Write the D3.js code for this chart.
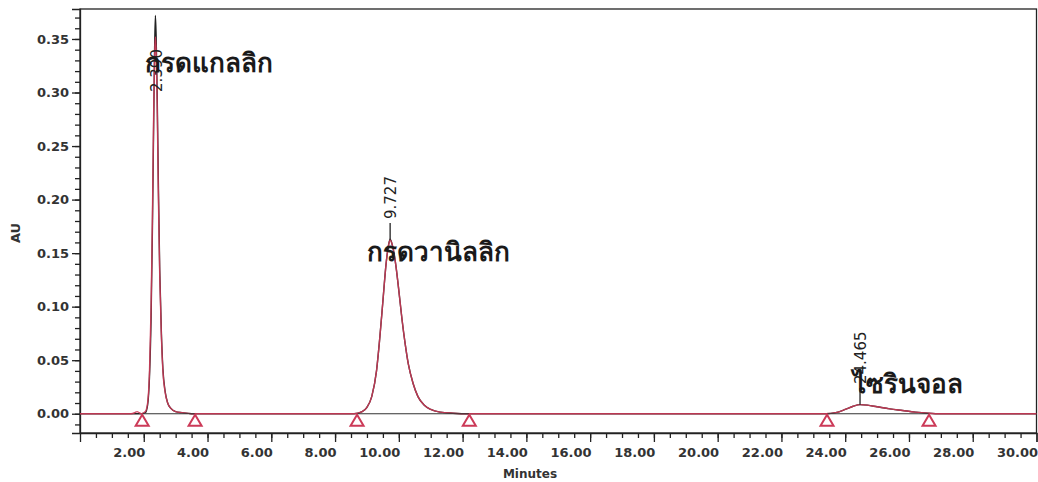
<!DOCTYPE html>
<html>
<head>
<meta charset="utf-8">
<script src="https://cdn.jsdelivr.net/npm/d3@7"></script>
<style>
  body { margin: 0; background: #fff; }
  svg { display: block; }
  .axis text { font-family: "DejaVu Sans", sans-serif; font-weight: bold; font-size: 13px; fill: #333; }
  .axis path, .axis line { stroke: #222; stroke-width: 1.3; }
</style>
</head>
<body>
<div id="chart"></div>
<script>
/* ---- data ---- */
// retention time (min) and absorbance (AU)
var traceTimes = [0, 1.6, 1.72, 1.79, 1.86, 1.93, 2.05, 2.12, 2.18, 2.23, 2.27, 2.31, 2.34, 2.365, 2.39, 2.42, 2.46, 2.50, 2.55, 2.60, 2.67, 2.75, 2.85, 3.0, 3.2, 3.5,
	8.6, 8.85, 9.0, 9.15, 9.3, 9.4, 9.5, 9.6, 9.68, 9.727, 9.8, 9.9, 10.0, 10.1, 10.2, 10.3, 10.45, 10.6, 10.8, 11.0, 11.3, 11.7, 12.2,
	23.4, 23.7, 24.0, 24.25, 24.465, 24.7, 25.0, 25.4, 25.8, 26.2, 26.6, 27.0, 30];
var redAbs = [0, 0, 0.001, 0.002, 0.001, 0, 0.002, 0.01, 0.04, 0.10, 0.18, 0.28, 0.335, 0.352, 0.338, 0.29, 0.20, 0.13, 0.075, 0.04, 0.02, 0.01, 0.005, 0.002, 0.001, 0,
	0, 0.002, 0.006, 0.016, 0.04, 0.07, 0.105, 0.14, 0.158, 0.162, 0.157, 0.14, 0.115, 0.088, 0.065, 0.046, 0.028, 0.016, 0.008, 0.004, 0.0015, 0.0005, 0,
	0, 0.001, 0.004, 0.007, 0.0085, 0.008, 0.0065, 0.0045, 0.003, 0.0015, 0.0005, 0, 0];
var blackAbs = [0, 0, 0, 0, 0, 0, 0.001, 0.008, 0.035, 0.09, 0.17, 0.27, 0.34, 0.372, 0.35, 0.30, 0.21, 0.135, 0.078, 0.042, 0.021, 0.01, 0.005, 0.002, 0.001, 0,
	0, 0.002, 0.006, 0.016, 0.04, 0.07, 0.105, 0.14, 0.158, 0.163, 0.157, 0.14, 0.115, 0.088, 0.065, 0.046, 0.028, 0.016, 0.008, 0.004, 0.0015, 0.0005, 0,
	0, 0.001, 0.004, 0.007, 0.0085, 0.008, 0.0065, 0.0045, 0.003, 0.0015, 0.0005, 0, 0];

// integration start / end markers (min)
var markerTimes = [1.95, 3.61, 8.69, 12.21, 23.43, 26.63];

// peak retention labels and compound names
var peakTimes = [2.39, 9.727, 24.465];
var peakLabels = ["2.390", "9.727", "24.465"];
var compoundNames = ["กรดแกลลิก", "กรดวานิลลิก", "ไซรินจอล"];

var yTicks = [0, 0.05, 0.10, 0.15, 0.20, 0.25, 0.30, 0.35];
var xTicks = [2, 4, 6, 8, 10, 12, 14, 16, 18, 20, 22, 24, 26, 28, 30];

/* ---- layout ---- */
var chartWidth = 1038, chartHeight = 482;
var plotLeft = 80, plotRight = 1036.5, plotTop = 9, plotBottom = 433;
var red = "#cc3a58";

var x = d3.scaleLinear().domain([0, 30]).range([plotLeft, plotRight]);
var y = d3.scaleLinear().domain([-0.018, 0.378]).range([plotBottom, plotTop]);

var svg = d3.select("#chart").append("svg")
	.attr("width", chartWidth)
	.attr("height", chartHeight);

svg.append("rect").attr("width", chartWidth).attr("height", chartHeight).attr("fill", "#fff");

// frame
svg.append("rect")
	.attr("x", plotLeft).attr("y", plotTop)
	.attr("width", plotRight - plotLeft).attr("height", plotBottom - plotTop)
	.attr("fill", "none").attr("stroke", "#222").attr("stroke-width", 1.3);

// minor ticks
var yMinor = d3.axisLeft(y).tickValues(d3.range(-0.01, 0.375, 0.01)).tickSize(5).tickFormat("");
svg.append("g").attr("class", "axis").attr("transform", "translate(" + plotLeft + ",0)").call(yMinor)
	.select(".domain").remove();
var xMinor = d3.axisBottom(x).tickValues(d3.range(0.5, 30, 0.5)).tickSize(5).tickFormat("");
svg.append("g").attr("class", "axis").attr("transform", "translate(0," + plotBottom + ")").call(xMinor)
	.select(".domain").remove();

// major axes
var yAxis = svg.append("g").attr("class", "axis")
	.attr("transform", "translate(" + plotLeft + ",0)")
	.call(d3.axisLeft(y).tickValues(yTicks).tickSize(8).tickPadding(3).tickFormat(d3.format(".2f")));
var xAxis = svg.append("g").attr("class", "axis")
	.attr("transform", "translate(0," + plotBottom + ")")
	.call(d3.axisBottom(x).tickValues(xTicks).tickSize(9).tickPadding(6).tickFormat(d3.format(".2f")));
xAxis.selectAll("text").attr("text-anchor", "end").attr("x", 1);

// axis titles
svg.append("text")
	.attr("transform", "translate(20," + ((plotTop + plotBottom) / 2 + 12) + ") rotate(-90)")
	.attr("text-anchor", "middle")
	.style("font-family", "DejaVu Sans, sans-serif").style("font-weight", "bold").style("font-size", "13px")
	.attr("fill", "#333")
	.text("AU");
svg.append("text")
	.attr("x", 530).attr("y", 478)
	.attr("text-anchor", "middle")
	.style("font-family", "DejaVu Sans, sans-serif").style("font-weight", "bold").style("font-size", "12px")
	.attr("fill", "#333")
	.text("Minutes");

// traces
var points = traceTimes.map(function(t, i) { return {t: t, red: redAbs[i], black: blackAbs[i]}; });
var lineBlack = d3.line().x(function(d) { return x(d.t); }).y(function(d) { return y(d.black); }).curve(d3.curveMonotoneX);
var lineRed = d3.line().x(function(d) { return x(d.t); }).y(function(d) { return y(d.red); }).curve(d3.curveMonotoneX);

svg.append("path").datum(points)
	.attr("d", lineBlack).attr("fill", "none").attr("stroke", "#222").attr("stroke-width", 1.4);
svg.append("path").datum(points)
	.attr("d", lineRed).attr("fill", "none").attr("stroke", red).attr("stroke-width", 1.4).attr("opacity", 0.9);

// integration baselines between marker pairs
for (var i = 0; i < markerTimes.length; i += 2) {
	svg.append("line")
		.attr("x1", x(markerTimes[i])).attr("x2", x(markerTimes[i + 1]))
		.attr("y1", y(0)).attr("y2", y(0))
		.attr("stroke", "#333").attr("stroke-width", 1.2);
}

// markers
svg.selectAll(".marker")
	.data(markerTimes)
	.enter().append("path")
		.attr("class", "marker")
		.attr("d", function(d) {
			var cx = x(d), cy = y(0) + 1;
			return "M" + cx + "," + cy + "L" + (cx - 6.5) + "," + (cy + 11) + "L" + (cx + 6.5) + "," + (cy + 11) + "Z";
		})
		.attr("fill", "#fff").attr("stroke", red).attr("stroke-width", 2);

// peak labels (vertical retention times)
var labelStart = [92, 219, 384];   // y where each rotated label begins
peakTimes.forEach(function(t, i) {
	var px = x(t);
	var apex = y(d3.max(points.filter(function(p) { return Math.abs(p.t - t) < 0.05; }), function(p) { return p.black; }));
	if (i > 0) {
		svg.append("line")
			.attr("x1", px).attr("x2", px)
			.attr("y1", apex).attr("y2", labelStart[i] + 4)
			.attr("stroke", "#222").attr("stroke-width", 1.3);
	}
	svg.append("text")
		.attr("transform", "translate(" + (px + 5.5) + "," + labelStart[i] + ") rotate(-90)")
		.style("font-family", "DejaVu Sans, sans-serif").style("font-size", "15px")
		.attr("fill", "#222")
		.text(peakLabels[i]);
});

// compound names
var namePos = [[145, 72], [367, 261], [853, 393]];
compoundNames.forEach(function(n, i) {
	svg.append("text")
		.attr("x", namePos[i][0]).attr("y", namePos[i][1])
		.style("font-family", "sans-serif").style("font-size", "26px").style("font-weight", "bold")
		.attr("fill", "#1a1a1a")
		.text(n);
});
</script>
</body>
</html>
